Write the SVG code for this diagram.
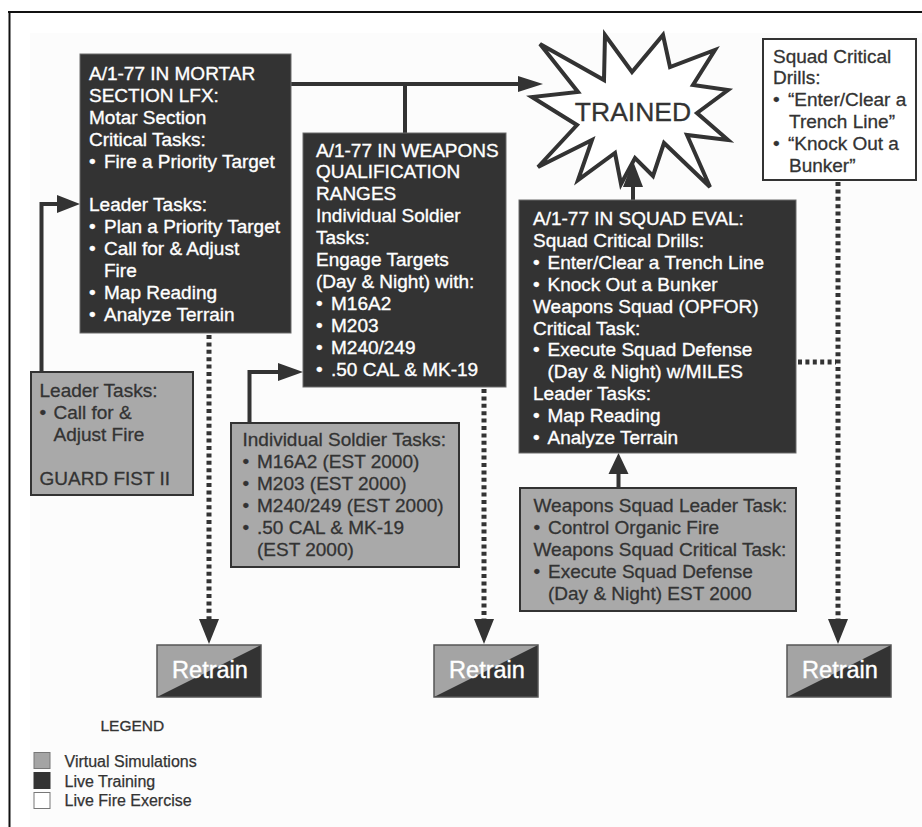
<svg xmlns="http://www.w3.org/2000/svg" width="922" height="827" viewBox="0 0 922 827">
<style>
text{font-family:"Liberation Sans",Arial,Helvetica,sans-serif;font-size:19px}
.w{fill:#ffffff;stroke:#ffffff;stroke-width:0.35}
.d{fill:#333333;stroke:#333333;stroke-width:0.3}
.dark{fill:#333333;stroke:#6a6a6a;stroke-width:1}
.gray{fill:#a9a9a9;stroke:#333333;stroke-width:2}
.white{fill:#ffffff;stroke:#333333;stroke-width:2}
.solid{fill:none;stroke:#333333;stroke-width:4}
.dot{fill:none;stroke:#333333;stroke-width:5;stroke-dasharray:4 3.4}
.head{fill:#333333}
.rt{font-size:23.5px;fill:#ffffff;stroke:#ffffff;stroke-width:0.4;text-anchor:middle}
.lg{font-size:16px;fill:#333333;stroke:#333333;stroke-width:0.25}
</style>
<rect x="0" y="0" width="922" height="827" fill="#ffffff"/>
<rect x="30" y="33" width="892" height="794" fill="#fcfcfc"/>
<path d="M8,12 H922 M9.5,11 V827" fill="none" stroke="#111111" stroke-width="2"/>

<g id="connectors">
  <path class="solid" d="M291,84 H520"/>
  <polygon class="head" points="518,76 543,84 518,92"/>
  <path class="solid" d="M405,84 V133"/>
  <path class="solid" d="M41.5,372 V204 H58"/>
  <polygon class="head" points="57,195 80,204 57,213"/>
  <path class="solid" d="M249.5,423 V372 H280"/>
  <polygon class="head" points="278,363 303,372 278,381"/>
  <path class="solid" d="M618.5,488 V472"/>
  <polygon class="head" points="608.5,474 618.5,453 628.5,474"/>
  <path class="solid" d="M633,200 V185"/>
  <polygon class="head" points="623,187 633,161 643,187"/>
  <path class="dot" d="M209,335 V619"/>
  <polygon class="head" points="199,619 209,644 219,619"/>
  <path class="dot" d="M484,389 V619"/>
  <polygon class="head" points="474,619 484,644 494,619"/>
  <path class="dot" d="M838,182 V619"/>
  <polygon class="head" points="828,619 838,644 848,619"/>
  <path class="dot" d="M798,362 H836"/>
</g>

<g id="trained">
  <polygon points="540,44 604,80 605,35 632,72 663,35 670,67 715,50 693,85 728,90 697,113 728,140 687,135 710,187 664,143 653,176 635,158 621,184 615,153 578,180 592,140 538,167 577,125 532,97 578,92" fill="#ffffff" stroke="#333333" stroke-width="4" stroke-linejoin="miter"/>
  <text x="633" y="121" text-anchor="middle" class="d" style="font-size:26.5px">TRAINED</text>
</g>

<g id="mortar">
  <rect class="dark" x="80" y="54" width="211" height="279"/>
  <text class="w">
    <tspan x="89" y="80">A/1-77 IN MORTAR</tspan>
    <tspan x="89" y="101.9">SECTION LFX:</tspan>
    <tspan x="89" y="123.8">Motar Section</tspan>
    <tspan x="89" y="145.7">Critical Tasks:</tspan>
    <tspan x="89" y="167.6">•</tspan><tspan x="104" y="167.6">Fire a Priority Target</tspan>
    <tspan x="89" y="211.4">Leader Tasks:</tspan>
    <tspan x="89" y="233.3">•</tspan><tspan x="104" y="233.3">Plan a Priority Target</tspan>
    <tspan x="89" y="255.2">•</tspan><tspan x="104" y="255.2">Call for &amp; Adjust</tspan>
    <tspan x="104" y="277.1">Fire</tspan>
    <tspan x="89" y="299">•</tspan><tspan x="104" y="299">Map Reading</tspan>
    <tspan x="89" y="320.9">•</tspan><tspan x="104" y="320.9">Analyze Terrain</tspan>
  </text>
</g>

<g id="weapons">
  <rect class="dark" x="303" y="133" width="203" height="254"/>
  <text class="w">
    <tspan x="316" y="156.5">A/1-77 IN WEAPONS</tspan>
    <tspan x="316" y="178.4">QUALIFICATION</tspan>
    <tspan x="316" y="200.3">RANGES</tspan>
    <tspan x="316" y="222.2">Individual Soldier</tspan>
    <tspan x="316" y="244.1">Tasks:</tspan>
    <tspan x="316" y="266">Engage Targets</tspan>
    <tspan x="316" y="287.9">(Day &amp; Night) with:</tspan>
    <tspan x="316" y="309.8">•</tspan><tspan x="331" y="309.8">M16A2</tspan>
    <tspan x="316" y="331.7">•</tspan><tspan x="331" y="331.7">M203</tspan>
    <tspan x="316" y="353.6">•</tspan><tspan x="331" y="353.6">M240/249</tspan>
    <tspan x="316" y="375.5">•</tspan><tspan x="331" y="375.5">.50 CAL &amp; MK-19</tspan>
  </text>
</g>

<g id="squad-eval">
  <rect class="dark" x="519" y="200" width="277" height="253"/>
  <text class="w">
    <tspan x="533" y="225">A/1-77 IN SQUAD EVAL:</tspan>
    <tspan x="533" y="246.9">Squad Critical Drills:</tspan>
    <tspan x="533" y="268.8">•</tspan><tspan x="547.5" y="268.8">Enter/Clear a Trench Line</tspan>
    <tspan x="533" y="290.7">•</tspan><tspan x="547.5" y="290.7">Knock Out a Bunker</tspan>
    <tspan x="533" y="312.6">Weapons Squad (OPFOR)</tspan>
    <tspan x="533" y="334.5">Critical Task:</tspan>
    <tspan x="533" y="356.4">•</tspan><tspan x="547.5" y="356.4">Execute Squad Defense</tspan>
    <tspan x="547.5" y="378.3">(Day &amp; Night) w/MILES</tspan>
    <tspan x="533" y="400.2">Leader Tasks:</tspan>
    <tspan x="533" y="422.1">•</tspan><tspan x="547.5" y="422.1">Map Reading</tspan>
    <tspan x="533" y="444">•</tspan><tspan x="547.5" y="444">Analyze Terrain</tspan>
  </text>
</g>

<g id="squad-drills-lfx">
  <rect class="white" x="763" y="39" width="153" height="141"/>
  <text class="d">
    <tspan x="773" y="62.5">Squad Critical</tspan>
    <tspan x="773" y="84.3">Drills:</tspan>
    <tspan x="773" y="106.1">•</tspan><tspan x="788" y="106.1">“Enter/Clear a</tspan>
    <tspan x="789" y="127.9">Trench Line”</tspan>
    <tspan x="773" y="149.7">•</tspan><tspan x="788" y="149.7">“Knock Out a</tspan>
    <tspan x="789" y="171.5">Bunker”</tspan>
  </text>
</g>

<g id="guard-fist">
  <rect class="gray" x="31" y="372" width="162" height="123"/>
  <text class="d">
    <tspan x="39.5" y="397">Leader Tasks:</tspan>
    <tspan x="39.5" y="419">•</tspan><tspan x="53.5" y="419">Call for &amp;</tspan>
    <tspan x="53.5" y="441">Adjust Fire</tspan>
    <tspan x="39.5" y="485">GUARD FIST II</tspan>
  </text>
</g>

<g id="est-individual">
  <rect class="gray" x="231" y="423" width="228" height="144"/>
  <text class="d">
    <tspan x="242.5" y="446">Individual Soldier Tasks:</tspan>
    <tspan x="242.5" y="468">•</tspan><tspan x="257" y="468">M16A2 (EST 2000)</tspan>
    <tspan x="242.5" y="490">•</tspan><tspan x="257" y="490">M203 (EST 2000)</tspan>
    <tspan x="242.5" y="512">•</tspan><tspan x="257" y="512">M240/249 (EST 2000)</tspan>
    <tspan x="242.5" y="534">•</tspan><tspan x="257" y="534">.50 CAL &amp; MK-19</tspan>
    <tspan x="257" y="556">(EST 2000)</tspan>
  </text>
</g>

<g id="est-squad">
  <rect class="gray" x="520" y="488" width="276" height="123"/>
  <text class="d">
    <tspan x="533.5" y="511.5">Weapons Squad Leader Task:</tspan>
    <tspan x="533.5" y="533.6">•</tspan><tspan x="548" y="533.6">Control Organic Fire</tspan>
    <tspan x="533.5" y="555.7">Weapons Squad Critical Task:</tspan>
    <tspan x="533.5" y="577.8">•</tspan><tspan x="548" y="577.8">Execute Squad Defense</tspan>
    <tspan x="548" y="599.9">(Day &amp; Night) EST 2000</tspan>
  </text>
</g>

<g id="retrain-1">
  <rect x="157" y="645" width="104" height="52" fill="#333333"/>
  <polygon points="157,645 261,645 157,697" fill="#a4a4a4"/>
  <rect x="157" y="645" width="104" height="52" fill="none" stroke="#555555" stroke-width="1.5"/>
  <text class="rt" x="210" y="678">Retrain</text>
</g>
<g id="retrain-2">
  <rect x="434" y="645" width="104" height="52" fill="#333333"/>
  <polygon points="434,645 538,645 434,697" fill="#a4a4a4"/>
  <rect x="434" y="645" width="104" height="52" fill="none" stroke="#555555" stroke-width="1.5"/>
  <text class="rt" x="487" y="678">Retrain</text>
</g>
<g id="retrain-3">
  <rect x="787" y="645" width="104" height="52" fill="#333333"/>
  <polygon points="787,645 891,645 787,697" fill="#a4a4a4"/>
  <rect x="787" y="645" width="104" height="52" fill="none" stroke="#555555" stroke-width="1.5"/>
  <text class="rt" x="840" y="678">Retrain</text>
</g>

<g id="legend">
  <text class="d" x="100.5" y="731" style="font-size:15.5px">LEGEND</text>
  <rect x="34" y="752.5" width="16" height="16" fill="#a4a4a4" stroke="#777777" stroke-width="1"/>
  <rect x="34" y="772.5" width="16" height="16" fill="#333333" stroke="#333333" stroke-width="1"/>
  <rect x="34" y="792.5" width="16" height="16" fill="#ffffff" stroke="#777777" stroke-width="1"/>
  <text class="lg" x="64.5" y="767">Virtual Simulations</text>
  <text class="lg" x="64.5" y="786.5">Live Training</text>
  <text class="lg" x="64.5" y="805.5">Live Fire Exercise</text>
</g>
</svg>
